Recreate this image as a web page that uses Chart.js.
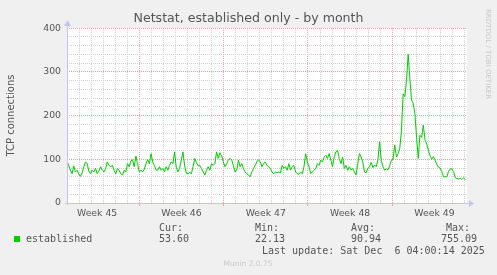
<!DOCTYPE html>
<html>
<head>
<meta charset="utf-8">
<script src="https://cdn.jsdelivr.net/npm/chart.js@4.4.0/dist/chart.umd.min.js"></script>
<style>
  html, body { margin: 0; padding: 0; background: #f0f0f0; }
  canvas { display: block; }
</style>
</head>
<body>
<canvas id="chart" width="497" height="275"></canvas>
<script>
// Established TCP connections (about one sample every 3.3 hours)
const established = [
  96, 86, 75, 67, 85, 71, 75, 66, 61, 69, 83, 94, 90, 73, 67, 75, 71, 79, 67, 73,
  83, 75, 71, 79, 94, 86, 83, 86, 75, 67, 79, 75, 67, 64, 75, 71, 90, 83, 96, 99,
  83, 107, 90, 71, 75, 71, 77, 90, 99, 90, 113, 94, 86, 75, 75, 83, 75, 79, 71, 83,
  75, 86, 94,
  90, 117, 82, 71, 79, 98, 117, 85, 68, 67, 70, 67, 83, 102, 92, 85, 86, 79, 71, 64,
  75, 83, 75, 90, 86, 90, 117, 102, 115, 108, 94, 83, 90, 98, 102, 98, 86, 71, 75, 98,
  83, 90, 79, 71, 67, 64, 60, 71, 79, 86, 94, 99, 94, 83, 90, 94, 86, 83,
  79, 71, 67, 71, 69, 71, 69, 86, 79, 83, 75, 90, 75, 83, 86, 71, 67, 66, 71, 67,
  83, 113, 94, 83, 67, 71, 75, 79, 90, 86, 98, 94, 105, 109, 102, 113, 98, 83, 105, 117,
  120, 102, 90, 105, 79, 86, 75, 83, 75, 79, 71, 64, 90, 113, 105, 94, 71, 69, 79, 83,
  93, 81, 87, 83, 98, 140, 98, 83, 75, 78, 76, 85, 98, 100, 133, 105, 113, 125, 165, 250,
  243, 280, 340, 285, 235, 228, 205, 150, 102, 155, 150, 178, 145, 135, 121, 108, 100, 106, 98, 89,
  82, 80, 72, 60, 60, 60, 72, 78, 78, 72, 58, 56, 55, 56, 54, 58, 53
];
const spanDays = 33.06;               // time covered by the samples
const rangeDays = 33.2;               // time covered by the graph
const weekLabels = ['Week 45', 'Week 46', 'Week 47', 'Week 48', 'Week 49'];
const weekStartDays = [-1, 6, 13, 20, 27];
const yMax = 400;
const statNames = ['Cur:', 'Min:', 'Avg:', 'Max:'];
const statValues = ['53.60', '22.13', '90.94', '755.09'];
const seriesName = 'established';
const lastUpdate = 'Last update: Sat Dec  6 04:00:14 2025';

const stepDays = spanDays / (established.length - 1);
const points = established.map((v, i) => ({ x: i * stepDays, y: v }));

const textColor = '#555555';
const minorGrid = '#d0d0d0';
const majorGrid = '#e6a0a0';
const axisColor = '#c4c4ee';
const lineColor = '#00cc00';

// half-day ticks: integer days carry the grid, week middles carry the labels
const xTicks = [];
for (let d = 0; d <= rangeDays; d += 0.5) xTicks.push(d);

function weekLabelAt(v) {
  const i = weekStartDays.findIndex(s => Math.abs(s + 3.5 - v) < 0.01);
  return i >= 0 ? weekLabels[i] : '';
}

const muninDecor = {
  id: 'muninDecor',
  beforeDraw(chart) {
    const { ctx, chartArea: a } = chart;
    ctx.save();
    ctx.fillStyle = '#f0f0f0';
    ctx.fillRect(0, 0, chart.width, chart.height);
    ctx.fillStyle = '#ffffff';
    ctx.fillRect(a.left, a.top, a.right - a.left, a.bottom - a.top);
    ctx.restore();
  },
  afterDraw(chart) {
    const { ctx, chartArea: a } = chart;
    ctx.save();
    // axes with arrows
    ctx.strokeStyle = axisColor;
    ctx.fillStyle = axisColor;
    ctx.lineWidth = 1;
    ctx.beginPath();
    ctx.moveTo(a.left - 2, a.bottom + 0.5);
    ctx.lineTo(a.right + 3, a.bottom + 0.5);
    ctx.moveTo(a.left + 0.5, a.bottom + 2);
    ctx.lineTo(a.left + 0.5, a.top - 3);
    ctx.stroke();
    ctx.beginPath();
    ctx.moveTo(a.right + 2, a.bottom - 3);
    ctx.lineTo(a.right + 7, a.bottom + 0.5);
    ctx.lineTo(a.right + 2, a.bottom + 4);
    ctx.fill();
    ctx.beginPath();
    ctx.moveTo(a.left - 3, a.top - 2);
    ctx.lineTo(a.left + 0.5, a.top - 8);
    ctx.lineTo(a.left + 4, a.top - 2);
    ctx.fill();

    // legend and stats
    ctx.fillStyle = lineColor;
    ctx.fillRect(14, 236, 6, 6);
    ctx.font = '10px "DejaVu Sans Mono"';
    ctx.fillStyle = textColor;
    ctx.textBaseline = 'middle';
    ctx.textAlign = 'left';
    ctx.fillText(seriesName, 26, 239.5);
    const labelX = [159, 255, 351, 446];
    const valueX = [159, 255, 351, 441];
    statNames.forEach((n, i) => {
      ctx.fillText(n, labelX[i], 228);
      ctx.fillText(statValues[i], valueX[i], 239.5);
    });
    ctx.fillText(lastUpdate, 262, 251);

    // watermarks
    ctx.fillStyle = '#c8c8c8';
    ctx.font = '7.5px "DejaVu Sans"';
    ctx.textAlign = 'center';
    ctx.fillText('Munin 2.0.75', 248, 264);
    ctx.translate(488, 54);
    ctx.rotate(Math.PI / 2);
    ctx.font = '7px "DejaVu Sans"';
    ctx.fillText('RRDTOOL / TOBI OETIKER', 0, 0);
    ctx.restore();
  }
};

new Chart(document.getElementById('chart'), {
  type: 'line',
  data: {
    datasets: [{
      label: seriesName,
      data: points,
      borderColor: lineColor,
      borderWidth: 1,
      pointRadius: 0,
      tension: 0,
      fill: false
    }]
  },
  options: {
    responsive: false,
    animation: false,
    events: [],
    layout: { padding: 0 },
    plugins: {
      legend: { display: false },
      tooltip: { enabled: false },
      title: {
        display: true,
        text: 'Netstat, established only - by month',
        color: textColor,
        font: { family: 'DejaVu Sans', size: 12.6, weight: 'normal' },
        padding: { top: 11, bottom: 2 }
      }
    },
    scales: {
      x: {
        type: 'linear',
        min: 0,
        max: rangeDays,
        afterFit: s => { s.height = 72; },
        afterBuildTicks: s => { s.ticks = xTicks.map(v => ({ value: v })); },
        border: { display: false, dash: [1, 1] },
        grid: {
          drawTicks: true,
          tickLength: 3,
          color: c => {
            const v = c.tick.value;
            if (weekStartDays.includes(v)) return majorGrid;
            return Number.isInteger(v) ? minorGrid : 'rgba(0,0,0,0)';
          },
          tickColor: c => weekStartDays.includes(c.tick.value) ? majorGrid : 'rgba(0,0,0,0)'
        },
        ticks: {
          autoSkip: false,
          maxRotation: 0,
          padding: 2,
          color: textColor,
          font: { family: 'DejaVu Sans', size: 9.3 },
          callback: v => weekLabelAt(v)
        }
      },
      y: {
        min: 0,
        max: yMax,
        afterFit: s => { s.width = 67; },
        border: { display: false, dash: [1, 1] },
        grid: {
          drawTicks: false,
          color: c => c.tick.value % 100 === 0 ? majorGrid : minorGrid
        },
        ticks: {
          stepSize: 20,
          autoSkip: false,
          padding: 6,
          color: textColor,
          font: { family: 'DejaVu Sans', size: 9.3 },
          callback: v => v % 100 === 0 ? String(v) : ''
        },
        title: {
          display: true,
          text: 'TCP connections',
          color: textColor,
          font: { family: 'DejaVu Sans', size: 10 },
          padding: { top: 5, bottom: 0 }
        }
      },
      // empty strip on the right, keeps the title centred on the whole image
      side: {
        position: 'right',
        min: 0,
        max: yMax,
        afterFit: s => { s.width = 30; },
        border: { display: false },
        grid: { display: false },
        ticks: { display: false }
      }
    }
  },
  plugins: [muninDecor]
});
</script>
</body>
</html>
